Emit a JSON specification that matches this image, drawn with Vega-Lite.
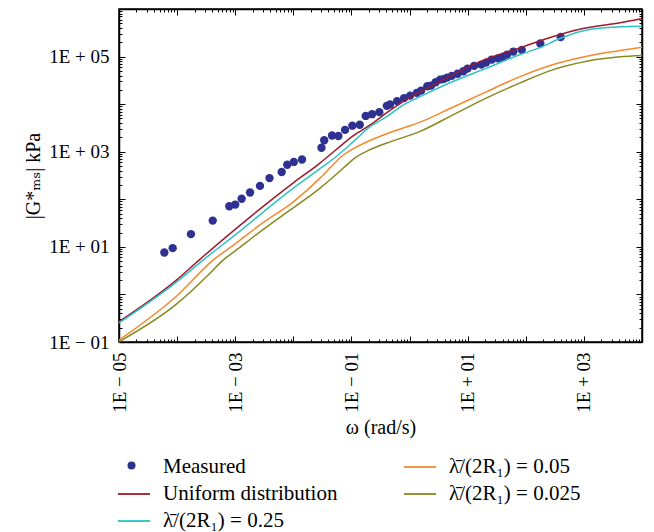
{
  "$schema": "https://vega.github.io/schema/vega-lite/v6.json",
  "width": 523,
  "height": 333,
  "autosize": {"type": "none"},
  "padding": {"left": 119, "top": 9, "right": 12, "bottom": 190},
  "background": "white",
  "config": {
    "view": {"stroke": "black", "strokeWidth": 1.5},
    "font": "Liberation Serif, Times New Roman, DejaVu Serif, serif",
    "axis": {
      "domainColor": "black",
      "domainWidth": 1.5,
      "tickColor": "black",
      "tickWidth": 1,
      "grid": false,
      "labelFont": "Liberation Serif, Times New Roman, DejaVu Serif, serif",
      "labelFontSize": 19,
      "labelColor": "black",
      "labelOverlap": false,
      "labelFlush": false,
      "labelBound": false,
      "titleFont": "Liberation Serif, Times New Roman, DejaVu Serif, serif",
      "titleFontSize": 20,
      "titleFontWeight": "normal",
      "titleColor": "black"
    },
    "legend": {
      "labelFont": "Liberation Serif, Times New Roman, DejaVu Serif, serif"
    }
  },
  "datasets": {
    "measured": [
      {"series": "Measured", "x": 6.03e-5, "y": 7.59},
      {"series": "Measured", "x": 8.39e-5, "y": 9.4},
      {"series": "Measured", "x": 1.73e-4, "y": 18.5},
      {"series": "Measured", "x": 4.1e-4, "y": 35.6},
      {"series": "Measured", "x": 7.91e-4, "y": 71.3},
      {"series": "Measured", "x": 1.0e-3, "y": 77.3},
      {"series": "Measured", "x": 1.29e-3, "y": 102.6},
      {"series": "Measured", "x": 1.8e-3, "y": 139},
      {"series": "Measured", "x": 2.67e-3, "y": 191},
      {"series": "Measured", "x": 3.89e-3, "y": 279},
      {"series": "Measured", "x": 6.31e-3, "y": 374},
      {"series": "Measured", "x": 7.85e-3, "y": 532},
      {"series": "Measured", "x": 1.02e-2, "y": 610},
      {"series": "Measured", "x": 1.41e-2, "y": 685},
      {"series": "Measured", "x": 3.05e-2, "y": 1213},
      {"series": "Measured", "x": 3.4e-2, "y": 1746},
      {"series": "Measured", "x": 4.63e-2, "y": 2193},
      {"series": "Measured", "x": 5.96e-2, "y": 2143},
      {"series": "Measured", "x": 7.76e-2, "y": 2877},
      {"series": "Measured", "x": 0.1035, "y": 3524},
      {"series": "Measured", "x": 0.139, "y": 3698},
      {"series": "Measured", "x": 0.176, "y": 5649},
      {"series": "Measured", "x": 0.226, "y": 6152},
      {"series": "Measured", "x": 0.302, "y": 6792},
      {"series": "Measured", "x": 0.406, "y": 9204},
      {"series": "Measured", "x": 0.461, "y": 9863},
      {"series": "Measured", "x": 0.61, "y": 11561},
      {"series": "Measured", "x": 0.804, "y": 13370},
      {"series": "Measured", "x": 1.02, "y": 15100},
      {"series": "Measured", "x": 1.33, "y": 17220},
      {"series": "Measured", "x": 1.58, "y": 19230},
      {"series": "Measured", "x": 2.02, "y": 23714},
      {"series": "Measured", "x": 2.34, "y": 24490},
      {"series": "Measured", "x": 2.81, "y": 28774},
      {"series": "Measured", "x": 3.35, "y": 32810},
      {"series": "Measured", "x": 3.82, "y": 33570},
      {"series": "Measured", "x": 4.42, "y": 36140},
      {"series": "Measured", "x": 5.32, "y": 39264},
      {"series": "Measured", "x": 6.7, "y": 43451},
      {"series": "Measured", "x": 8.43, "y": 49091},
      {"series": "Measured", "x": 9.95, "y": 55847},
      {"series": "Measured", "x": 12.9, "y": 63680},
      {"series": "Measured", "x": 17.2, "y": 67920},
      {"series": "Measured", "x": 20.7, "y": 74820},
      {"series": "Measured", "x": 26.0, "y": 86497},
      {"series": "Measured", "x": 33.3, "y": 91622},
      {"series": "Measured", "x": 40.2, "y": 98628},
      {"series": "Measured", "x": 47.8, "y": 110150},
      {"series": "Measured", "x": 61.2, "y": 127350},
      {"series": "Measured", "x": 85.3, "y": 138360},
      {"series": "Measured", "x": 178, "y": 187930},
      {"series": "Measured", "x": 400, "y": 257630}
    ],
    "curves": [
      {"series": "Uniform distribution", "x": 1e-5, "y": 0.267},
      {"series": "Uniform distribution", "x": 9.84e-5, "y": 2.02},
      {"series": "Uniform distribution", "x": 2.41e-4, "y": 5.32},
      {"series": "Uniform distribution", "x": 9.27e-4, "y": 21.7},
      {"series": "Uniform distribution", "x": 0.01, "y": 222},
      {"series": "Uniform distribution", "x": 0.0288, "y": 578},
      {"series": "Uniform distribution", "x": 0.0543, "y": 1102},
      {"series": "Uniform distribution", "x": 0.108, "y": 2173},
      {"series": "Uniform distribution", "x": 0.2265, "y": 3881},
      {"series": "Uniform distribution", "x": 0.406, "y": 6622},
      {"series": "Uniform distribution", "x": 0.685, "y": 10260},
      {"series": "Uniform distribution", "x": 1.33, "y": 16630},
      {"series": "Uniform distribution", "x": 2.86, "y": 27040},
      {"series": "Uniform distribution", "x": 5.68, "y": 42850},
      {"series": "Uniform distribution", "x": 21.3, "y": 89536},
      {"series": "Uniform distribution", "x": 79.8, "y": 152410},
      {"series": "Uniform distribution", "x": 298.5, "y": 263630},
      {"series": "Uniform distribution", "x": 1122, "y": 401790},
      {"series": "Uniform distribution", "x": 4198, "y": 511680},
      {"series": "Uniform distribution", "x": 10000, "y": 630960},
      {"series": "λ̄/(2R₁) = 0.25", "x": 1e-5, "y": 0.251},
      {"series": "λ̄/(2R₁) = 0.25", "x": 9.84e-5, "y": 1.83},
      {"series": "λ̄/(2R₁) = 0.25", "x": 2.82e-4, "y": 5.32},
      {"series": "λ̄/(2R₁) = 0.25", "x": 1e-3, "y": 17.9},
      {"series": "λ̄/(2R₁) = 0.25", "x": 0.01, "y": 172},
      {"series": "λ̄/(2R₁) = 0.25", "x": 0.0288, "y": 439},
      {"series": "λ̄/(2R₁) = 0.25", "x": 0.0543, "y": 785},
      {"series": "λ̄/(2R₁) = 0.25", "x": 0.108, "y": 1625},
      {"series": "λ̄/(2R₁) = 0.25", "x": 0.209, "y": 3357},
      {"series": "λ̄/(2R₁) = 0.25", "x": 0.406, "y": 5454},
      {"series": "λ̄/(2R₁) = 0.25", "x": 0.773, "y": 9526},
      {"series": "λ̄/(2R₁) = 0.25", "x": 1.52, "y": 14390},
      {"series": "λ̄/(2R₁) = 0.25", "x": 5.68, "y": 30200},
      {"series": "λ̄/(2R₁) = 0.25", "x": 21.3, "y": 57280},
      {"series": "λ̄/(2R₁) = 0.25", "x": 79.8, "y": 110150},
      {"series": "λ̄/(2R₁) = 0.25", "x": 176, "y": 154530},
      {"series": "λ̄/(2R₁) = 0.25", "x": 389, "y": 239330},
      {"series": "λ̄/(2R₁) = 0.25", "x": 1122, "y": 361410},
      {"series": "λ̄/(2R₁) = 0.25", "x": 4198, "y": 421700},
      {"series": "λ̄/(2R₁) = 0.25", "x": 10000, "y": 434510},
      {"series": "λ̄/(2R₁) = 0.05", "x": 1e-5, "y": 0.11},
      {"series": "λ̄/(2R₁) = 0.05", "x": 9.84e-5, "y": 0.929},
      {"series": "λ̄/(2R₁) = 0.05", "x": 4.2e-4, "y": 5.32},
      {"series": "λ̄/(2R₁) = 0.05", "x": 1e-3, "y": 11.56},
      {"series": "λ̄/(2R₁) = 0.05", "x": 2.67e-3, "y": 29.0},
      {"series": "λ̄/(2R₁) = 0.05", "x": 0.01, "y": 88.5},
      {"series": "λ̄/(2R₁) = 0.05", "x": 0.0288, "y": 279},
      {"series": "λ̄/(2R₁) = 0.05", "x": 0.0522, "y": 586},
      {"series": "λ̄/(2R₁) = 0.05", "x": 0.0716, "y": 844},
      {"series": "λ̄/(2R₁) = 0.05", "x": 0.108, "y": 1156},
      {"series": "λ̄/(2R₁) = 0.05", "x": 0.406, "y": 2393},
      {"series": "λ̄/(2R₁) = 0.05", "x": 1.52, "y": 4178},
      {"series": "λ̄/(2R₁) = 0.05", "x": 5.68, "y": 8730},
      {"series": "λ̄/(2R₁) = 0.05", "x": 21.3, "y": 18330},
      {"series": "λ̄/(2R₁) = 0.05", "x": 79.8, "y": 37930},
      {"series": "λ̄/(2R₁) = 0.05", "x": 298.5, "y": 67920},
      {"series": "λ̄/(2R₁) = 0.05", "x": 1122, "y": 101400},
      {"series": "λ̄/(2R₁) = 0.05", "x": 4198, "y": 133660},
      {"series": "λ̄/(2R₁) = 0.05", "x": 10000, "y": 157040},
      {"series": "λ̄/(2R₁) = 0.025", "x": 1e-5, "y": 0.101},
      {"series": "λ̄/(2R₁) = 0.025", "x": 9.84e-5, "y": 0.631},
      {"series": "λ̄/(2R₁) = 0.025", "x": 3.68e-4, "y": 2.79},
      {"series": "λ̄/(2R₁) = 0.025", "x": 6.24e-4, "y": 5.32},
      {"series": "λ̄/(2R₁) = 0.025", "x": 1e-3, "y": 8.24},
      {"series": "λ̄/(2R₁) = 0.025", "x": 2.67e-3, "y": 20.7},
      {"series": "λ̄/(2R₁) = 0.025", "x": 6.73e-3, "y": 47.2},
      {"series": "λ̄/(2R₁) = 0.025", "x": 0.01, "y": 66.2},
      {"series": "λ̄/(2R₁) = 0.025", "x": 0.0288, "y": 172},
      {"series": "λ̄/(2R₁) = 0.025", "x": 0.0429, "y": 258},
      {"series": "λ̄/(2R₁) = 0.025", "x": 0.075, "y": 470},
      {"series": "λ̄/(2R₁) = 0.025", "x": 0.108, "y": 700},
      {"series": "λ̄/(2R₁) = 0.025", "x": 0.2, "y": 1080},
      {"series": "λ̄/(2R₁) = 0.025", "x": 0.406, "y": 1524},
      {"series": "λ̄/(2R₁) = 0.025", "x": 1.52, "y": 2673},
      {"series": "λ̄/(2R₁) = 0.025", "x": 5.68, "y": 6012},
      {"series": "λ̄/(2R₁) = 0.025", "x": 21.3, "y": 13520},
      {"series": "λ̄/(2R₁) = 0.025", "x": 79.8, "y": 27930},
      {"series": "λ̄/(2R₁) = 0.025", "x": 298.5, "y": 53211},
      {"series": "λ̄/(2R₁) = 0.025", "x": 1122, "y": 79616},
      {"series": "λ̄/(2R₁) = 0.025", "x": 4198, "y": 98620},
      {"series": "λ̄/(2R₁) = 0.025", "x": 10000, "y": 104950}
    ]
  },
  "layer": [
    {
      "data": {"name": "measured"},
      "mark": {"type": "point", "filled": true, "size": 70, "opacity": 1, "color": "#2e3192"},
      "encoding": {
        "x": {
          "field": "x", "type": "quantitative",
          "scale": {"type": "log", "domain": [1e-5, 10000], "nice": false},
          "axis": {
            "orient": "bottom",
            "title": "ω (rad/s)",
            "titlePadding": 5,
            "values": [1e-5,2e-5,3e-5,4e-5,5e-5,6e-5,7e-5,8e-5,9e-5,1e-4,2e-4,3e-4,4e-4,5e-4,6e-4,7e-4,8e-4,9e-4,1e-3,2e-3,3e-3,4e-3,5e-3,6e-3,7e-3,8e-3,9e-3,0.01,0.02,0.03,0.04,0.05,0.06,0.07,0.08,0.09,0.1,0.2,0.3,0.4,0.5,0.6,0.7,0.8,0.9,1,2,3,4,5,6,7,8,9,10,20,30,40,50,60,70,80,90,100,200,300,400,500,600,700,800,900,1000,2000,3000,4000,5000,6000,7000,8000,9000,10000],
            "tickSize": {"condition": {"test": "abs(log(datum.value)/LN10 - round(log(datum.value)/LN10)) < 0.001", "value": -6}, "value": -3},
            "labelAngle": 270,
            "labelAlign": "right",
            "labelBaseline": "middle",
            "labelPadding": 16,
            "labelExpr": "abs(log(datum.value)/LN10 - round(log(datum.value)/LN10)) < 0.001 && abs(round(log(datum.value)/LN10)) % 2 == 1 ? '1E' + (datum.value < 1 ? ' \u2212 ' : ' + ') + '0' + abs(round(log(datum.value)/LN10)) : ''"
          }
        },
        "y": {
          "field": "y", "type": "quantitative",
          "scale": {"type": "log", "domain": [0.1, 1000000], "nice": false},
          "axis": {
            "orient": "left",
            "title": "|G*ₘₛ| kPa",
            "titlePadding": 5,
            "values": [0.1,0.2,0.3,0.4,0.5,0.6,0.7,0.8,0.9,1,2,3,4,5,6,7,8,9,10,20,30,40,50,60,70,80,90,100,200,300,400,500,600,700,800,900,1000,2000,3000,4000,5000,6000,7000,8000,9000,10000,20000,30000,40000,50000,60000,70000,80000,90000,100000,200000,300000,400000,500000,600000,700000,800000,900000,1000000],
            "tickSize": {"condition": {"test": "abs(log(datum.value)/LN10 - round(log(datum.value)/LN10)) < 0.001", "value": -6}, "value": -3},
            "labelPadding": 16,
            "labelExpr": "abs(log(datum.value)/LN10 - round(log(datum.value)/LN10)) < 0.001 && abs(round(log(datum.value)/LN10)) % 2 == 1 ? '1E' + (datum.value < 1 ? ' \u2212 ' : ' + ') + '0' + abs(round(log(datum.value)/LN10)) : ''"
          }
        },
        "shape": {
          "field": "series", "type": "nominal",
          "scale": {"domain": ["Measured"], "range": ["circle"]},
          "legend": {
            "title": null,
            "orient": "none",
            "legendX": 2,
            "legendY": 446,
            "symbolSize": 64,
            "symbolFillColor": "#2e3192",
            "symbolStrokeWidth": 0,
            "labelExpr": "''",
            "labelFont": "Liberation Serif, Times New Roman, DejaVu Serif, serif",
            "labelFontSize": 21
          }
        }
      }
    },
    {
      "data": {"name": "curves"},
      "mark": {"type": "line", "strokeWidth": 1.5, "interpolate": "monotone"},
      "encoding": {
        "x": {
          "field": "x", "type": "quantitative",
          "scale": {"type": "log", "domain": [1e-5, 10000], "nice": false},
          "axis": {
            "orient": "top",
            "title": null,
            "labels": false,
            "values": [1e-5,2e-5,3e-5,4e-5,5e-5,6e-5,7e-5,8e-5,9e-5,1e-4,2e-4,3e-4,4e-4,5e-4,6e-4,7e-4,8e-4,9e-4,1e-3,2e-3,3e-3,4e-3,5e-3,6e-3,7e-3,8e-3,9e-3,0.01,0.02,0.03,0.04,0.05,0.06,0.07,0.08,0.09,0.1,0.2,0.3,0.4,0.5,0.6,0.7,0.8,0.9,1,2,3,4,5,6,7,8,9,10,20,30,40,50,60,70,80,90,100,200,300,400,500,600,700,800,900,1000,2000,3000,4000,5000,6000,7000,8000,9000,10000],
            "tickSize": {"condition": {"test": "abs(log(datum.value)/LN10 - round(log(datum.value)/LN10)) < 0.001", "value": -6}, "value": -3}
          }
        },
        "y": {
          "field": "y", "type": "quantitative",
          "scale": {"type": "log", "domain": [0.1, 1000000], "nice": false},
          "axis": {
            "orient": "right",
            "title": null,
            "labels": false,
            "values": [0.1,0.2,0.3,0.4,0.5,0.6,0.7,0.8,0.9,1,2,3,4,5,6,7,8,9,10,20,30,40,50,60,70,80,90,100,200,300,400,500,600,700,800,900,1000,2000,3000,4000,5000,6000,7000,8000,9000,10000,20000,30000,40000,50000,60000,70000,80000,90000,100000,200000,300000,400000,500000,600000,700000,800000,900000,1000000],
            "tickSize": {"condition": {"test": "abs(log(datum.value)/LN10 - round(log(datum.value)/LN10)) < 0.001", "value": -6}, "value": -3}
          }
        },
        "color": {
          "field": "series", "type": "nominal",
          "scale": {
            "domain": ["Measured", "Uniform distribution", "λ̄/(2R₁) = 0.25", "λ̄/(2R₁) = 0.05", "λ̄/(2R₁) = 0.025"],
            "range": ["rgba(0,0,0,0)", "#9e1a2e", "#2cc3c3", "#f5882a", "#878a1e"]
          },
          "legend": {
            "title": null,
            "orient": "none",
            "legendX": -2,
            "legendY": 441,
            "columns": 2,
            "columnPadding": 62,
            "rowPadding": 0,
            "symbolType": "stroke",
            "symbolSize": 1024,
            "symbolStrokeWidth": 1.8,
            "labelFont": "Liberation Serif, Times New Roman, DejaVu Serif, serif",
            "labelFontSize": 21,
            "labelColor": "black",
            "labelOffset": 12,
            "labelLimit": 400
          }
        }
      }
    }
  ],
  "resolve": {"axis": {"x": "independent", "y": "independent"}}
}
